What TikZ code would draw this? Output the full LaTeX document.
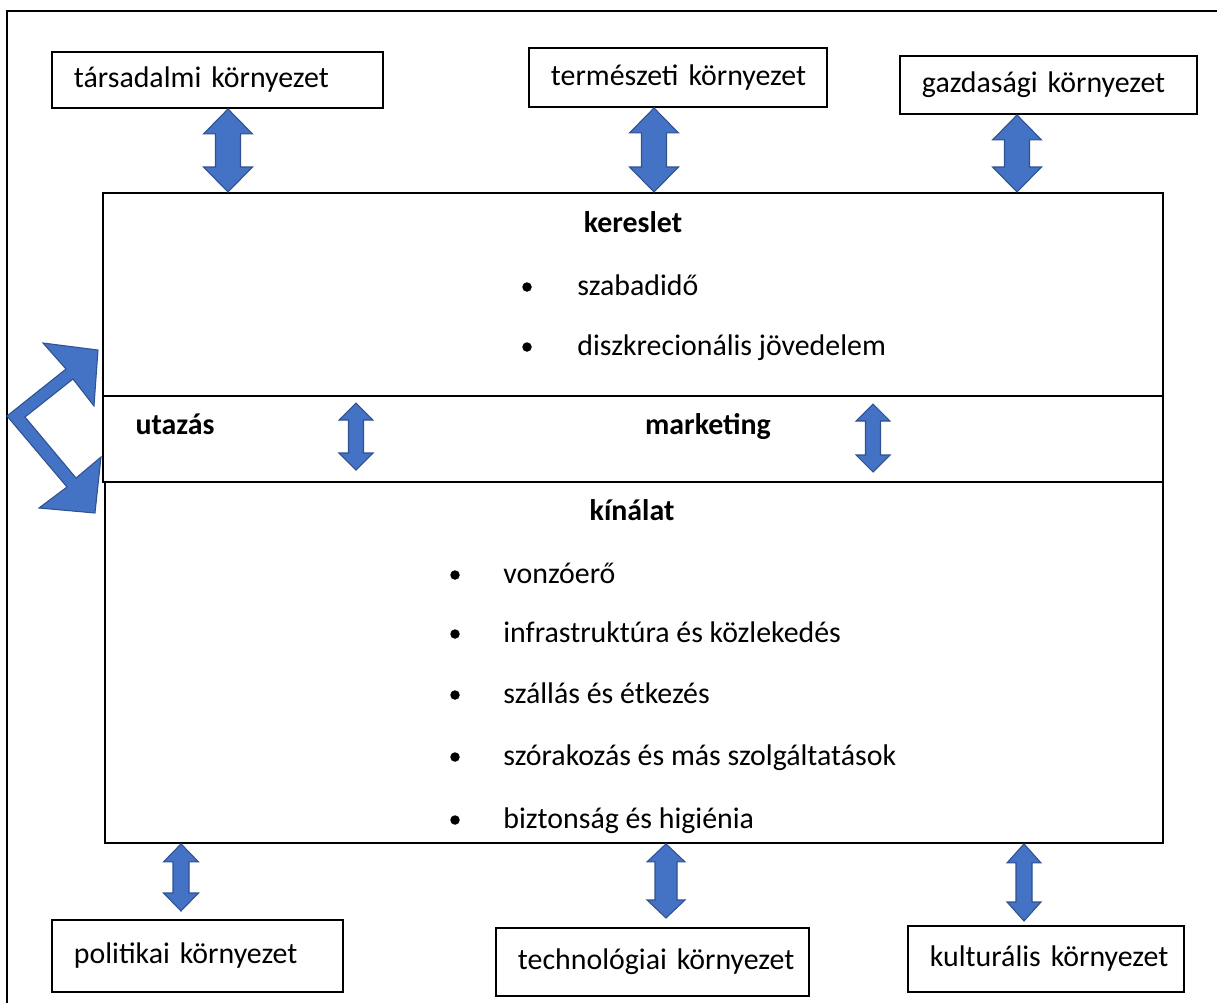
\documentclass[tikz,border=0pt]{standalone}
\usepackage{fontspec}
\setmainfont{Carlito}
\usetikzlibrary{calc}
\definecolor{arrowblue}{HTML}{4472C4}
\definecolor{arrowedge}{HTML}{2F528F}
% double block arrow: top, bottom, half head, half shaft, head length
\newcommand{\updown}[5]{\filldraw[blockarrow] (#1) -- ($(#1)+(#3,#5)$) -- ($(#1)+(#4,#5)$)
  -- ($(#2)+(#4,-#5)$) -- ($(#2)+(#3,-#5)$) -- (#2) -- ($(#2)+(-#3,-#5)$)
  -- ($(#2)+(-#4,-#5)$) -- ($(#1)+(-#4,#5)$) -- ($(#1)+(-#3,#5)$) -- cycle;}

\begin{document}
\begin{tikzpicture}[x=0.02cm, y=-0.02cm, font=\fontsize{17}{20}\selectfont,
  env/.style={rectangle, draw, line width=1.1pt, anchor=north west, inner xsep=0.44cm, inner ysep=0pt, align=left},
  part/.style={rectangle, draw, line width=1.1pt, anchor=north west, inner sep=0pt},
  item/.style={anchor=base west, inner sep=0pt},
  blockarrow/.style={fill=arrowblue, draw=arrowedge, line width=0.6pt},
  dot/.style={circle, fill, inner sep=0pt, minimum size=0.19cm}]
\useasboundingbox (0,0) rectangle (1217,1002);
\draw[line width=1.1pt] (7,11) rectangle (1240,1020);

% environment boxes
\node[env, text width=5.74cm, minimum height=1.12cm] (tars) at (51,51) {\mbox{társadalmi környezet}};
\node[env, text width=5.08cm, minimum height=1.18cm] (term) at (528,47) {\mbox{természeti környezet}};
\node[env, text width=5.06cm, minimum height=1.16cm] (gazd) at (899,55) {\mbox{gazdasági környezet}};
\node[env, text width=4.94cm, minimum height=1.44cm] (pol) at (51,919) {\mbox{politikai környezet}};
\node[env, text width=5.38cm, minimum height=1.36cm] (tech) at (495,927) {\mbox{technológiai környezet}};
\node[env, text width=4.64cm, minimum height=1.32cm] (kult) at (907,925) {\mbox{kulturális környezet}};

% main block
\node[part, minimum width=21.2cm, minimum height=4.06cm] (ker) at (102,192) {};
\node[part, minimum width=21.2cm, minimum height=1.72cm] (band) at (102,395) {};
\node[part, minimum width=21.16cm, minimum height=7.22cm] (kin) at (104,481) {};

\node[anchor=base] (kereslet) at (633,232) {\textbf{kereslet}};
\node[dot] (kd1) at (527,287) {};
\node[item] (k1) at (577,295) {szabadidő};
\node[dot] (kd2) at (527,347) {};
\node[item] (k2) at (577,355) {diszkrecionális jövedelem};

\node[anchor=base] (utazas) at (175,434) {\textbf{utazás}};
\node[anchor=base] (marketing) at (708,434) {\textbf{marketing}};

\node[anchor=base] (kinalat) at (632,520) {\textbf{kínálat}};
\node[dot] (nd1) at (455,575) {};
\node[item] (n1) at (503,583) {vonzóerő};
\node[dot] (nd2) at (455,634) {};
\node[item] (n2) at (503,642) {infrastruktúra és közlekedés};
\node[dot] (nd3) at (455,695) {};
\node[item] (n3) at (503,703) {szállás és étkezés};
\node[dot] (nd4) at (455,757) {};
\node[item] (n4) at (503,765) {szórakozás és más szolgáltatások};
\node[dot] (nd5) at (455,820) {};
\node[item] (n5) at (503,828) {biztonság és higiénia};

% arrow ends
\coordinate (u1) at (356,403);
\coordinate (u2) at (356,470);
\coordinate (m1) at (873,404);
\coordinate (m2) at (873,472);
\coordinate (p2) at (181,911);
\coordinate (t2) at (666,918);
\coordinate (c2) at (1024,921);

\updown{228,0 |- tars.south}{228,0 |- ker.north}{24.5}{12.5}{25}
\updown{654,0 |- term.south}{654,0 |- ker.north}{24.5}{12.5}{25}
\updown{1017,0 |- gazd.south}{1017,0 |- ker.north}{24.5}{12.5}{25}
\updown{u1}{u2}{17}{7.5}{17}
\updown{m1}{m2}{17}{7.5}{17}
\updown{181,0 |- kin.south}{p2}{17.5}{8}{18}
\updown{666,0 |- kin.south}{t2}{19}{11}{18}
\updown{1024,0 |- kin.south}{c2}{17}{8}{19}

% bent arrow on the left
\filldraw[blockarrow] (98,350) -- (94,406) -- (73,379) -- (25,417) -- (76,478) -- (101,457)
  -- (95,513) -- (39,508) -- (67,487) -- (7,416) -- (66,369) -- (43,343) -- cycle;
\end{tikzpicture}
\end{document}
